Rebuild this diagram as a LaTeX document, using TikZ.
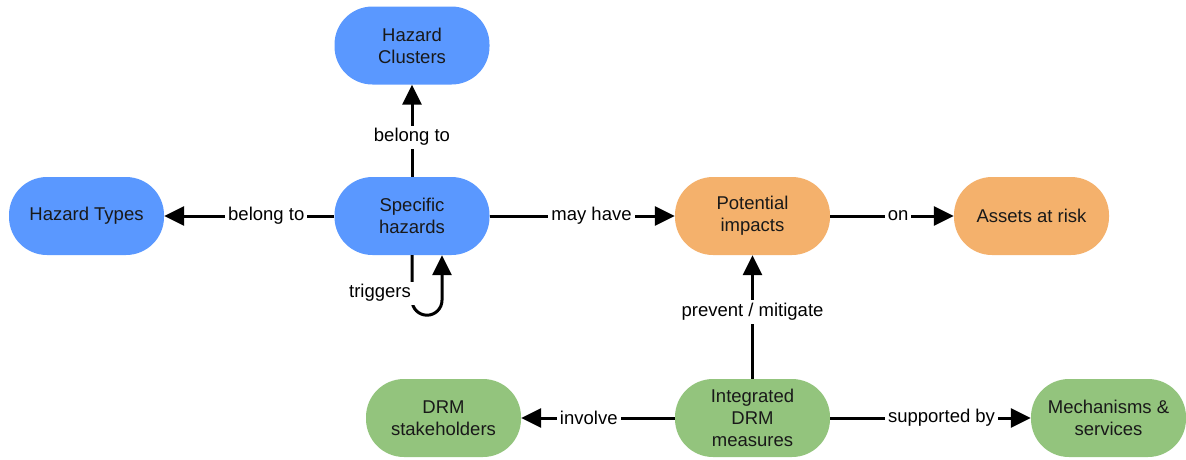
\documentclass[tikz,border=0pt]{standalone}
\usepackage{fontspec}
\setmainfont{Liberation Sans}
\usetikzlibrary{arrows.meta}
\definecolor{cblue}{RGB}{90,152,255}
\definecolor{corange}{RGB}{244,177,108}
\definecolor{cgreen}{RGB}{147,196,125}
\definecolor{ctext}{RGB}{25,25,25}
\begin{document}
\begin{tikzpicture}[x=1pt,y=-1pt,
  box/.style={rectangle, rounded corners=38pt, minimum width=155pt, minimum height=78pt,
    align=center, font=\fontsize{18.5}{22}\selectfont, text=ctext, inner sep=0pt},
  bluebox/.style={box, fill=cblue},
  orangebox/.style={box, fill=corange},
  greenbox/.style={box, fill=cgreen},
  conn/.style={line width=3pt, -{Triangle[length=20pt,width=19pt]}},
  lbl/.style={fill=white, font=\fontsize{18.5}{22}\selectfont, text=black, inner sep=3pt}]
\useasboundingbox (0,0) rectangle (1186,459);
\node[bluebox] (hc) at (412,45.5) {Hazard\\Clusters};
\node[bluebox] (sh) at (412,216) {Specific\\hazards};
\node[bluebox] (ht) at (86.5,216) {Hazard Types};
\node[orangebox] (pi) at (752.5,216) {Potential\\impacts};
\node[orangebox] (ar) at (1031.5,216) {Assets at risk};
\node[greenbox] (ds) at (443.5,418) {DRM\\stakeholders};
\node[greenbox] (im) at (752.5,418) {Integrated\\DRM\\measures};
\node[greenbox] (ms) at (1108.5,418) {Mechanisms \&\\services};

\draw[conn] (sh.north) -- node[lbl, pos=0.43] {belong to} (hc.south);
\draw[conn] (sh.west) -- node[lbl, pos=0.40] {belong to} (ht.east);
\draw[conn] (sh.east) -- node[lbl, pos=0.55] {may have} (pi.west);
\draw[conn] (pi.east) -- node[lbl, pos=0.55] {on} (ar.west);
\draw[conn] (im.north) -- node[lbl, pos=0.54] {prevent / mitigate} (pi.south);
\draw[conn] (im.west) -- node[lbl, pos=0.56] {involve} (ds.east);
\draw[conn] (im.east) -- node[lbl, pos=0.555] {supported by} (ms.west);

\draw[conn] (sh.south) -- ++(0pt,-45pt) arc[start angle=180, end angle=360, radius=15pt] -- ([xshift=30pt]sh.south);
\node[lbl, anchor=east, inner xsep=4pt] (trg) at ([xshift=3pt,yshift=-38pt]sh.south) {triggers};
\end{tikzpicture}
\end{document}
